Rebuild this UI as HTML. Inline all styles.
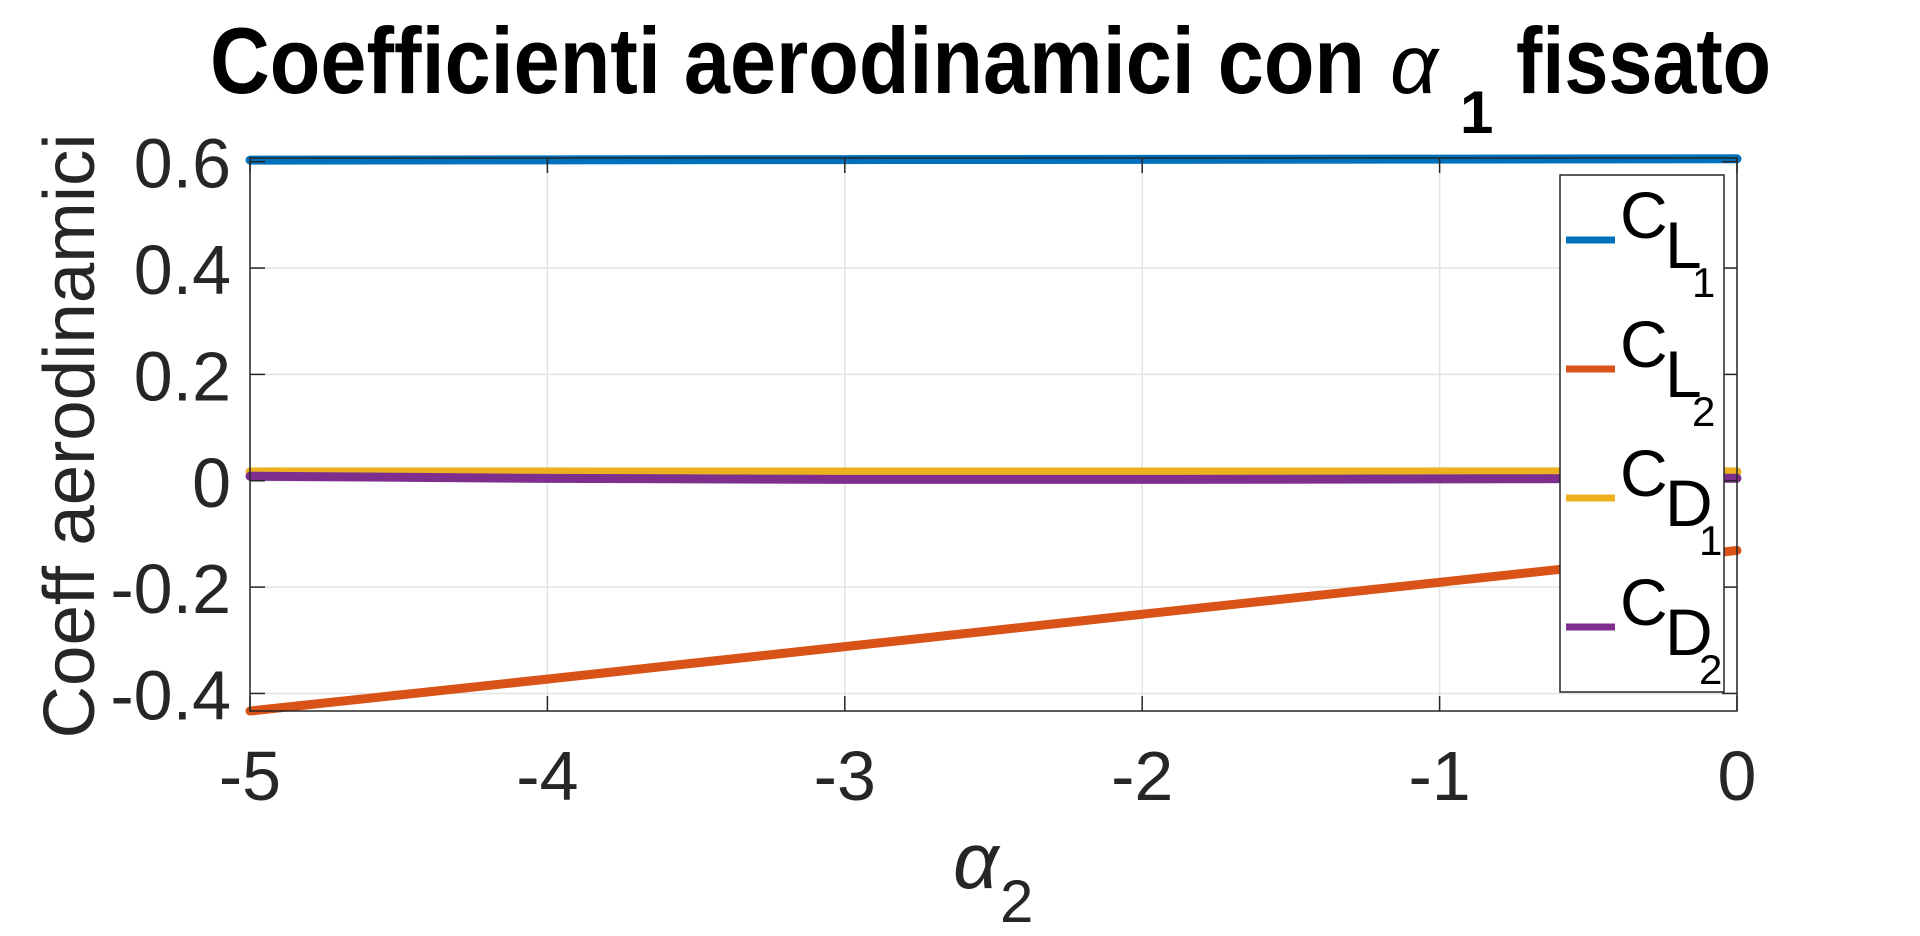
<!DOCTYPE html>
<html><head><meta charset="utf-8"><style>
html,body{margin:0;padding:0;background:#fff;width:1920px;height:936px;overflow:hidden}
svg{display:block}
text{font-family:"Liberation Sans",Arial,sans-serif}
</style></head><body>
<svg id="chart" width="1920" height="936" viewBox="0 0 1920 936" xmlns="http://www.w3.org/2000/svg">
<g>
<text x="210" y="93" font-size="94" font-weight="bold" textLength="1155" lengthAdjust="spacingAndGlyphs" fill="#000">Coefficienti aerodinamici con</text>
<text x="1390" y="93" font-size="84" font-style="italic" font-family="Liberation Serif,serif" fill="#000">α</text>
<text x="1460" y="133" font-size="60" font-weight="bold" fill="#000">1</text>
<text x="1516" y="93" font-size="94" font-weight="bold" textLength="255" lengthAdjust="spacingAndGlyphs" fill="#000">fissato</text>
</g>
<g id="grid"></g>
<g id="series"></g>
<g id="axes"></g>
<g>
<text transform="translate(94,436) rotate(-90)" text-anchor="middle" font-size="72" fill="#262626" textLength="605" lengthAdjust="spacingAndGlyphs">Coeff aerodinamici</text>
</g>
<g>
<text x="953" y="888" font-size="80" font-style="italic" font-family="Liberation Serif,serif" fill="#262626">α</text>
<text x="1000" y="922" font-size="60" fill="#262626">2</text>
</g>
<g id="legend"></g>
</svg>
<script>
const xValues = [-5, -4, -3, -2, -1, 0];
const seriesNames = ["CL1", "CL2", "CD1", "CD2"];
const cl1 = [0.603, 0.6035, 0.604, 0.6045, 0.605, 0.6055];
const cl2 = [-0.433, -0.373, -0.312, -0.251, -0.191, -0.131];
const cd1 = [0.0166, 0.0166, 0.0165, 0.0165, 0.0166, 0.0166];
const cd2 = [0.0085, 0.0045, 0.0025, 0.0025, 0.0035, 0.0047];
const xTicks = [-5, -4, -3, -2, -1, 0];
const xTickLabels = ["-5", "-4", "-3", "-2", "-1", "0"];
const yTicks = [-0.4, -0.2, 0, 0.2, 0.4, 0.6];
const yTickLabels = ["-0.4", "-0.2", "0", "0.2", "0.4", "0.6"];
const legendMain = ["C", "C", "C", "C"];
const legendSub = ["L", "L", "D", "D"];
const legendSubSub = ["1", "2", "1", "2"];

const NS = "http://www.w3.org/2000/svg";
const X0 = 250, X1 = 1737, Y0 = 711, Y1 = 158;
const xMin = -5, xMax = 0, yMin = -0.433, yMax = 0.607;
const sx = v => X0 + (v - xMin) / (xMax - xMin) * (X1 - X0);
const sy = v => Y0 - (v - yMin) / (yMax - yMin) * (Y0 - Y1);
function mk(tag, attrs, parent){const e=document.createElementNS(NS,tag);for(const k in attrs)e.setAttribute(k,attrs[k]);parent.appendChild(e);return e;}

const grid = document.getElementById('grid');
const axes = document.getElementById('axes');
const series = document.getElementById('series');
const legend = document.getElementById('legend');

xTicks.forEach((t,i)=>{
  const x = sx(t);
  const g = mk('line',{x1:x,x2:x,y1:Y1,y2:Y0,stroke:'#e3e3e3','stroke-width':1.5},grid);
  
  
  const tk = mk('line',{x1:x,x2:x,y1:Y0,y2:Y0-15,stroke:'#262626','stroke-width':1.5},axes);
  
  
  const tk2 = mk('line',{x1:x,x2:x,y1:Y1,y2:Y1+15,stroke:'#262626','stroke-width':1.5},axes);
  
  
  const lb = mk('text',{x:x,y:800,'text-anchor':'middle','font-size':70,fill:'#262626'},axes);
  lb.textContent = xTickLabels[i];
  
  
});
yTicks.forEach((t,i)=>{
  const y = sy(t);
  const g = mk('line',{x1:X0,x2:X1,y1:y,y2:y,stroke:'#e3e3e3','stroke-width':1.5},grid);
  
  
  const tk = mk('line',{x1:X0,x2:X0+15,y1:y,y2:y,stroke:'#262626','stroke-width':1.5},axes);
  
  
  const tk2 = mk('line',{x1:X1,x2:X1-15,y1:y,y2:y,stroke:'#262626','stroke-width':1.5},axes);
  
  
  const lb = mk('text',{x:231,y:y+26,'text-anchor':'end','font-size':70,fill:'#262626'},axes);
  lb.textContent = yTickLabels[i];
  
  
});
const box = mk('rect',{x:X0,y:Y1,width:X1-X0,height:Y0-Y1,fill:'none',stroke:'#262626','stroke-width':1.5},axes);



const colors = ['#0072BD','#D95319','#EDB120','#7E2F8E'];
const data = [cl1, cl2, cd1, cd2];
data.forEach((arr,si)=>{
  const pts = arr.map((v,i)=>sx(xValues[i])+','+sy(v)).join(' ');
  const pl = mk('polyline',{points:pts,fill:'none',stroke:colors[si],'stroke-width':9,'stroke-linecap':'round','stroke-linejoin':'round'},series);
  
  
});

const lbg = mk('rect',{x:1560,y:175,width:164,height:517,fill:'#fff',stroke:'#262626','stroke-width':1.5},legend);


seriesNames.forEach((n,i)=>{
  const y = 240 + i*129;
  const g = mk('g',{},legend);
  
  
  mk('line',{x1:1566,x2:1615,y1:y,y2:y,stroke:colors[i],'stroke-width':7},g);
  const t1 = mk('text',{x:1620,y:y-2,'font-size':66,fill:'#000'},g);
  t1.textContent = legendMain[i];
  const t2 = mk('text',{x:1665,y:y+28,'font-size':66,fill:'#000'},g);
  t2.textContent = legendSub[i];
  const t3 = mk('text',{x:legendSub[i]==='D'?1699:1692,y:y+57,'font-size':42,fill:'#000'},g);
  t3.textContent = legendSubSub[i];
});
</script>
</body></html>
